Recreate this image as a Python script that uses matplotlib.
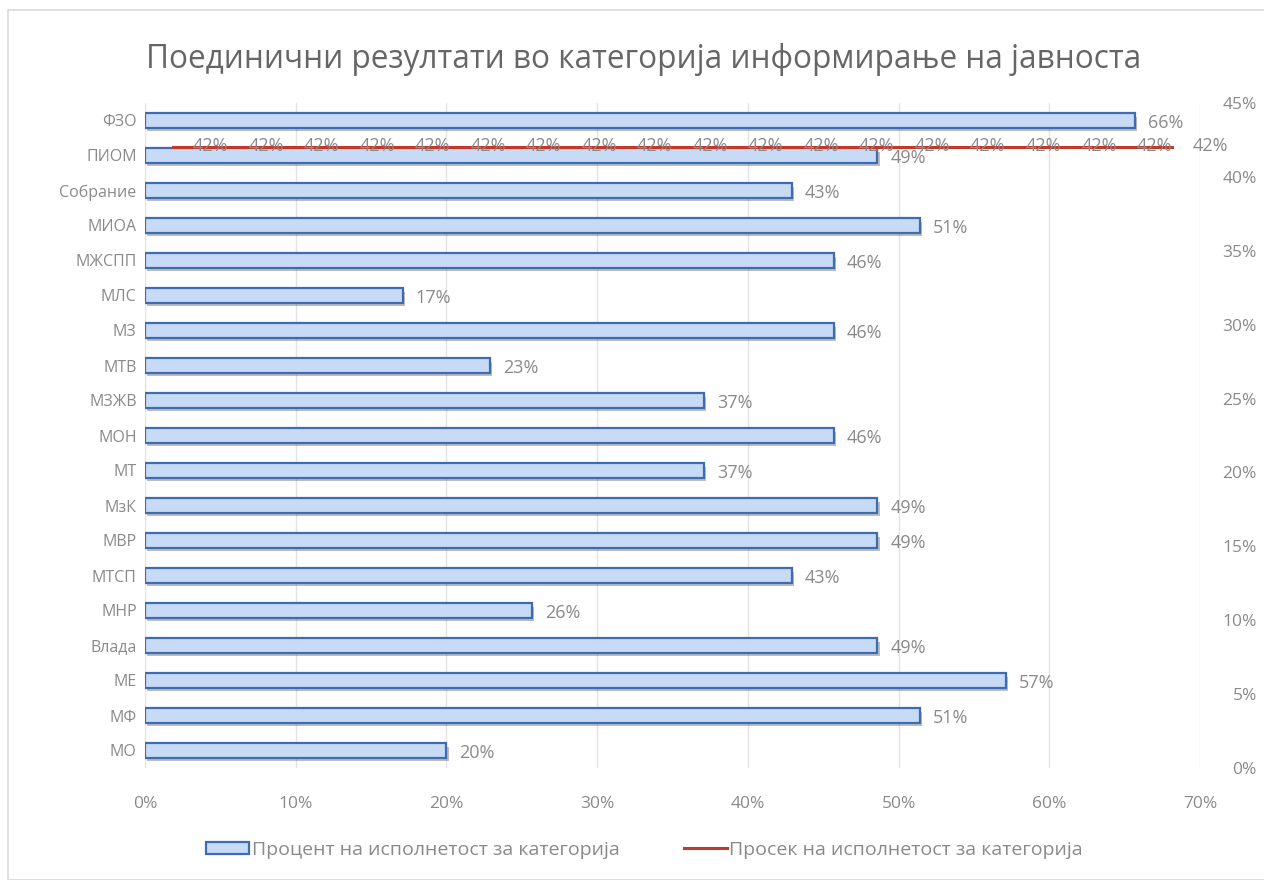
import matplotlib.pyplot as plt
import matplotlib.patheffects as pe
from matplotlib.patches import Rectangle
from matplotlib.ticker import PercentFormatter

plt.rcParams['font.family'] = ['Open Sans', 'DejaVu Sans']

categories = ['МО', 'МФ', 'МЕ', 'Влада', 'МНР', 'МТСП', 'МВР', 'МзК', 'МТ', 'МОН',
              'МЗЖВ', 'МТВ', 'МЗ', 'МЛС', 'МЖСПП', 'МИОА', 'Собрание', 'ПИОМ', 'ФЗО']
percent = [0.200, 0.514, 0.571, 0.486, 0.257, 0.429, 0.486, 0.486, 0.371, 0.457,
           0.371, 0.229, 0.457, 0.171, 0.457, 0.514, 0.429, 0.486, 0.657]
average = [0.42] * 19

grey = '#666666'
light = '#8a8a8a'

fig = plt.figure(figsize=(12.64, 8.8), dpi=100)
fig.patches.append(Rectangle((8 / 1264, 0), 1.0, 1 - 10 / 880, transform=fig.transFigure,
                             fill=False, edgecolor='#d9d9d9', linewidth=1.2))

pos = [145 / 1264, 1 - 768 / 880, (1200 - 145) / 1264, (768 - 103) / 880]
ax = fig.add_axes(pos)
y = range(len(categories))
bars = ax.barh(y, percent, height=0.42, color='#c8dbf6', edgecolor='#3f6cb0', linewidth=1.6)
for b in bars:
    b.set_path_effects([pe.SimplePatchShadow(offset=(1.5, -2.5), alpha=0.35), pe.Normal()])
for i, v in enumerate(percent):
    ax.text(v + 0.0085, i - 0.06, '{:.0f}%'.format(v * 100), va='center', ha='left',
            fontsize=13, color=light)
ax.set_xlim(0, 0.7)
ax.set_ylim(-0.5, len(categories) - 0.5)
ax.set_yticks(list(y))
ax.set_yticklabels(categories)
ax.set_xticks([i / 10 for i in range(8)])
ax.xaxis.set_major_formatter(PercentFormatter(1.0, decimals=0))
ax.grid(axis='x', color='#e3e3e3', linewidth=1)
ax.set_axisbelow(True)
for s in ax.spines.values():
    s.set_visible(False)
ax.tick_params(length=0, colors=light)
ax.tick_params(axis='y', pad=6, labelsize=11.5)
ax.tick_params(axis='x', pad=20, labelsize=12.5)

# secondary axes for the average line
ax2 = fig.add_axes(pos, frameon=False)
xs = list(range(len(average)))
ax2.plot(xs, average, color='#c0392b', linewidth=2.2)
for x, v in zip(xs, average):
    ax2.text(x + 0.36, v + 0.001, '{:.0f}%'.format(v * 100), va='center', ha='left',
             fontsize=13, color=light)
ax2.set_xlim(-0.5, len(average) - 0.5)
ax2.set_ylim(0, 0.45)
ax2.set_xticks([])
ax2.yaxis.tick_right()
ax2.set_yticks([i / 100 for i in range(0, 46, 5)])
ax2.yaxis.set_major_formatter(PercentFormatter(1.0, decimals=0))
ax2.tick_params(length=0, colors=light, labelsize=12.5, pad=41)
for t in ax2.get_yticklabels():
    t.set_horizontalalignment('right')

fig.text(0.5095, 1 - 60 / 880, 'Поединични резултати во категорија информирање на јавноста',
         ha='center', va='center', fontsize=22.7, color=grey)

# legend
h1 = Rectangle((0, 0), 1, 1, facecolor='#c8dbf6', edgecolor='#3f6cb0', linewidth=1.6)
h2 = plt.Line2D([0], [0], color='#c0392b', linewidth=2.2)
fig.legend([h1, h2], ['Процент на исполнетост за категорија', 'Просек на исполнетост за категорија'],
           loc='center', bbox_to_anchor=(0.51, 1 - 850 / 880), ncol=2, frameon=False,
           fontsize=14, labelcolor=light, columnspacing=3.3, handlelength=2.2,
           handleheight=0.6, handletextpad=0.15)

plt.savefig('out.png', dpi=100)
